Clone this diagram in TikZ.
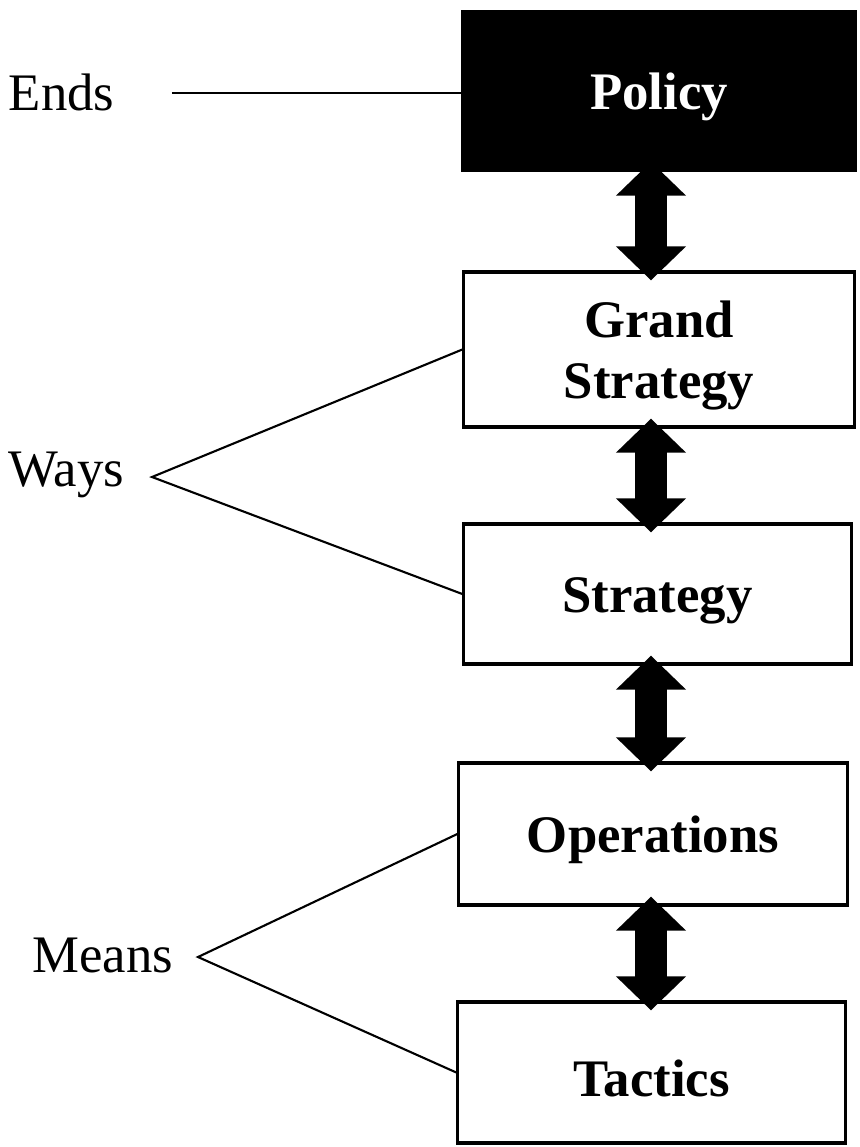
\documentclass[tikz,border=0pt]{standalone}
\usepackage{fontspec}
\setmainfont{Liberation Serif}
\usetikzlibrary{arrows.meta}

\begin{document}
\begin{tikzpicture}[x=0.01cm,y=-0.01cm,
  level/.style={draw,line width=0.9pt,font=\fontsize{15}{17.3}\selectfont\bfseries,align=center,inner sep=0pt,
    execute at begin node={\rule{0pt}{13.8pt}}},
  side/.style={font=\fontsize{15}{17.3}\selectfont,inner sep=0pt,anchor=base east},
  dblarrow/.style={line width=3.2mm,{Triangle[width=6.8mm,length=3.4mm]}-{Triangle[width=6.8mm,length=3.4mm]},shorten <=-1mm,shorten >=-1mm},
  thinline/.style={line width=0.6pt}]
  \useasboundingbox (0,0) rectangle (860,1147);
  \node[level,fill=black,text=white,minimum width=3.92cm,minimum height=1.58cm] (policy) at (659,91) {Policy};
  \node[level,text depth=0pt,minimum width=3.9cm,minimum height=1.55cm] (grand) at (659,349.5) {Grand\\Strategy};
  \node[level,minimum width=3.87cm,minimum height=1.4cm] (strategy) at (657.5,594) {Strategy};
  \node[level,minimum width=3.88cm,minimum height=1.42cm] (operations) at (653,834) {Operations};
  \node[level,minimum width=3.87cm,minimum height=1.41cm] (tactics) at (651.5,1072.5) {Tactics};

  \node[side] (ends) at (115,110) {Ends};
  \node[side] (ways) at (125,486) {Ways};
  \node[side] (means) at (174,972) {Means};

  \coordinate (col) at (651,0);
  \coordinate (endsfork) at (172,93);
  \coordinate (waysfork) at (152,477);
  \coordinate (meansfork) at (198,957);

  \draw[dblarrow] (policy.south -| col) -- (grand.north -| col);
  \draw[dblarrow] (grand.south -| col) -- (strategy.north -| col);
  \draw[dblarrow] (strategy.south -| col) -- (operations.north -| col);
  \draw[dblarrow] (operations.south -| col) -- (tactics.north -| col);

  \draw[thinline] (endsfork) -- (policy.west |- endsfork);
  \draw[thinline] (grand.west) -- (waysfork) -- (strategy.west);
  \draw[thinline] (operations.west) -- (meansfork) -- (tactics.west);
\end{tikzpicture}
\end{document}
